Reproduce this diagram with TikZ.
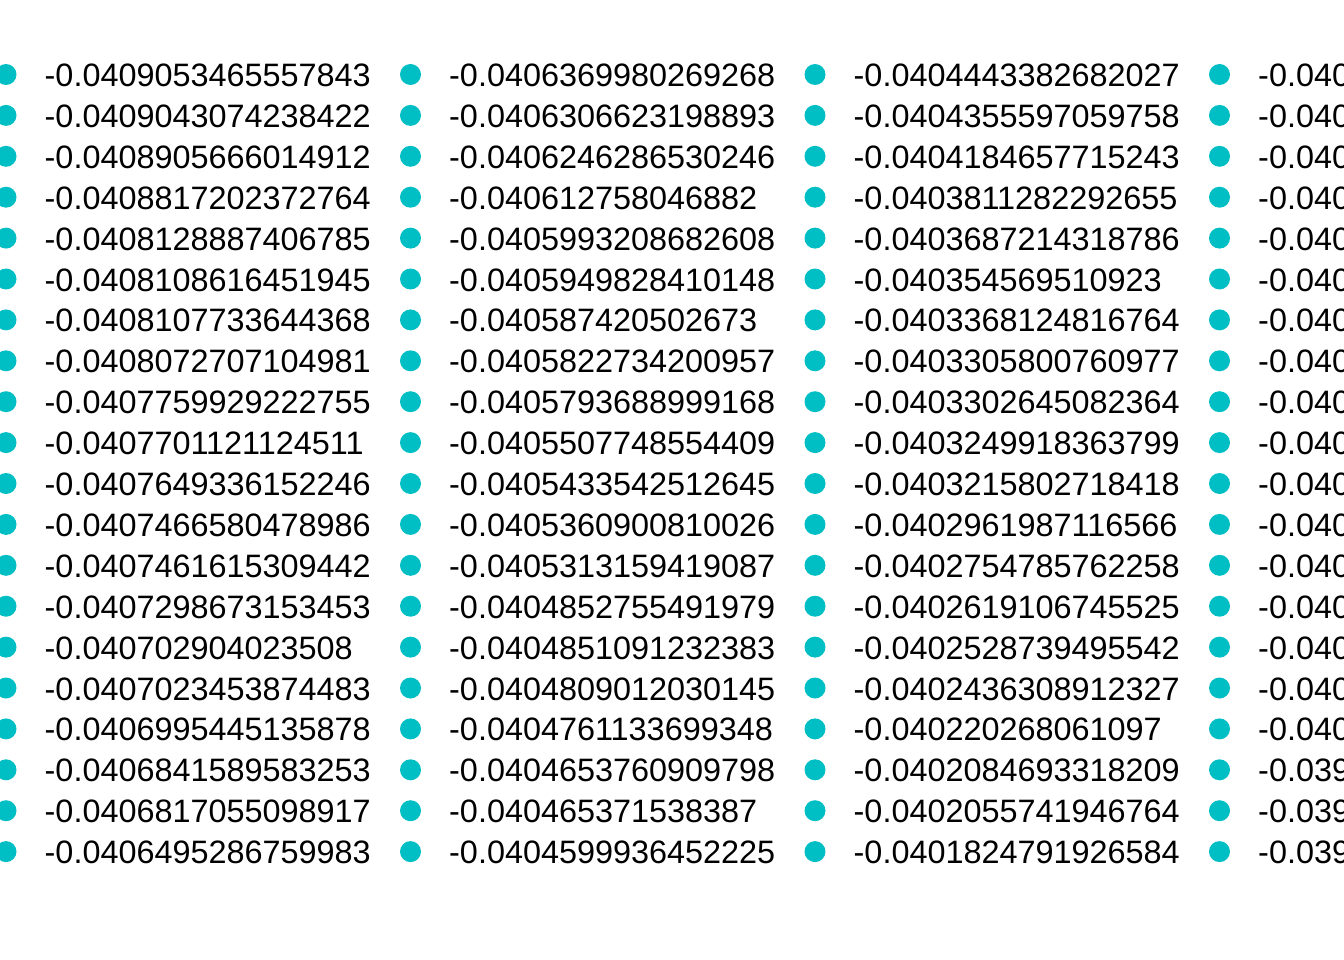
\documentclass[tikz,border=0pt]{standalone}
\usepackage{fontspec}
\setmainfont{Liberation Sans}
\usetikzlibrary{positioning}
\definecolor{keyteal}{HTML}{00BFC4}
\tikzset{
  keydot/.style={circle, fill=keyteal, minimum size=21pt, inner sep=0pt},
  keylab/.style={anchor=base west, inner sep=0pt, font=\fontsize{32.4}{38}\selectfont}
}

\begin{document}
\begin{tikzpicture}[x=1pt,y=-1pt]
            \useasboundingbox (0,0) rectangle (1344,960);

            % first column of the key
            \foreach \lab [count=\i from 0] in {-0.0409053465557843,-0.0409043074238422,-0.0408905666014912,-0.0408817202372764,-0.0408128887406785,-0.0408108616451945,-0.0408107733644368,-0.0408072707104981,-0.0407759929222755,-0.0407701121124511,-0.0407649336152246,-0.0407466580478986,-0.0407461615309442,-0.0407298673153453,-0.040702904023508,-0.0407023453874483,-0.0406995445135878,-0.0406841589583253,-0.0406817055098917,-0.0406495286759983}{
              \node[keydot] (da\i) at (6,74.5+40.9*\i) {};
              \node[keylab] (la\i) at (44.5,86.5+40.9*\i) {\lab};
            }

            % second column
            \foreach \lab [count=\i from 0] in {-0.0406369980269268,-0.0406306623198893,-0.0406246286530246,-0.040612758046882,-0.0405993208682608,-0.0405949828410148,-0.040587420502673,-0.0405822734200957,-0.0405793688999168,-0.0405507748554409,-0.0405433542512645,-0.0405360900810026,-0.0405313159419087,-0.0404852755491979,-0.0404851091232383,-0.0404809012030145,-0.0404761133699348,-0.0404653760909798,-0.040465371538387,-0.0404599936452225}{
              \node[keydot] (db\i) at (410.5,74.5+40.9*\i) {};
              \node[keylab] (lb\i) at (449,86.5+40.9*\i) {\lab};
            }

            % third column
            \foreach \lab [count=\i from 0] in {-0.0404443382682027,-0.0404355597059758,-0.0404184657715243,-0.0403811282292655,-0.0403687214318786,-0.040354569510923,-0.0403368124816764,-0.0403305800760977,-0.0403302645082364,-0.0403249918363799,-0.0403215802718418,-0.0402961987116566,-0.0402754785762258,-0.0402619106745525,-0.0402528739495542,-0.0402436308912327,-0.040220268061097,-0.0402084693318209,-0.0402055741946764,-0.0401824791926584}{
              \node[keydot] (dc\i) at (815,74.5+40.9*\i) {};
              \node[keylab] (lc\i) at (853.5,86.5+40.9*\i) {\lab};
            }

            % fourth column, cut by the edge
            \foreach \lab [count=\i from 0] in {-0.040,-0.040,-0.040,-0.040,-0.040,-0.040,-0.040,-0.040,-0.040,-0.040,-0.040,-0.040,-0.040,-0.040,-0.040,-0.040,-0.040,-0.039,-0.039,-0.039}{
              \node[keydot] (dd\i) at (1219.5,74.5+40.9*\i) {};
              \node[keylab] (ld\i) at (1258,86.5+40.9*\i) {\lab};
            }
\end{tikzpicture}
\end{document}
